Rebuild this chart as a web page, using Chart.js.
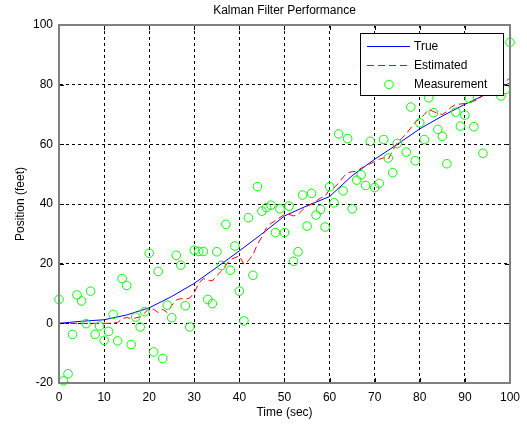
<!DOCTYPE html>
<html>
<head>
<meta charset="utf-8">
<script src="https://cdn.jsdelivr.net/npm/chart.js@4.4.0/dist/chart.umd.min.js"></script>
<style>
  html, body { margin: 0; padding: 0; background: #fff; }
  #wrap { width: 527px; height: 430px; }
</style>
</head>
<body>
<div id="wrap"><canvas id="kalman" width="527" height="430"></canvas></div>
<script>
// time axis of the measurements / estimate, one sample per second
const timeSec = [];
for (let t = 0; t <= 100; t++) timeSec.push(t);

// true trajectory, read every 5 s
const trueTime = [0, 5, 10, 15, 20, 25, 30, 35, 40, 45, 50, 55, 60, 65, 70, 75, 80, 85, 90, 95, 100];
const truePos  = [0, 0.7, 1.2, 2.8, 5.2, 9.0, 13.4, 18.8, 24.3, 30.0, 36.0, 39.4, 42.5, 49.5, 55.0, 60.0, 65.2, 69.5, 73.4, 77.0, 80.6];

// Kalman estimate
const estPos = [
  0, 0, 0, 0, 0, 0, 0, 0, 0, 0,
  0, 0, 0, 0.3, 1.5, 2.0, 1.5, 1.8, 2.2, 3.5,
  5.0, 4.7, 3.6, 4.7, 3.6, 6.0, 7.8, 8.3, 8.0, 8.5,
  10.3, 13.5, 15.0, 14.5, 14.2, 16.0, 17.5, 19.5, 21.4, 22.0,
  22.6, 19.8, 21.0, 23.0, 26.5, 29.0, 32.0, 33.5, 34.5, 35.5,
  36.5, 36.5, 36.0, 36.5, 38.0, 39.3, 40.0, 41.0, 42.0, 42.6,
  44.9, 45.5, 47.0, 49.0, 50.5, 50.8, 51.0, 52.0, 52.7, 53.5,
  54.2, 55.0, 55.5, 54.9, 58.0, 60.5, 62.0, 63.5, 65.5, 67.5,
  68.5, 70.0, 71.7, 71.0, 70.4, 70.0, 71.0, 72.5, 73.4, 73.5,
  73.7, 73.9, 74.5, 75.0, 76.7, 77.5, 78.3, 79.0, 80.5, 81.0,
  82.3
];

// noisy measurements
const measPos = [
  8.0, -19.3, -16.9, -3.7, 9.5, 7.5, -0.1, 10.8, -3.7, -0.9,
  -5.7, -2.7, 3.0, -5.9, 15.0, 12.7, -7.1, 2.1, -1.2, 3.9,
  23.5, -9.6, 17.4, -11.8, 6.1, 1.9, 22.8, 19.5, 5.9, -1.2,
  24.5, 24.1, 24.1, 8.0, 6.6, 24.0, 19.4, 33.2, 17.8, 25.9,
  10.8, 0.8, 35.4, 16.1, 45.8, 37.6, 38.8, 39.6, 30.4, 38.4,
  30.4, 39.3, 20.8, 24.0, 43.0, 32.6, 43.6, 36.3, 38.2, 32.3,
  45.8, 40.4, 63.5, 44.4, 61.9, 38.4, 48.0, 49.8, 46.2, 61.0,
  45.5, 46.9, 61.6, 55.4, 50.5, 60.3, 84.0, 57.4, 72.5, 54.5,
  67.2, 61.6, 75.6, 70.6, 65.0, 62.7, 53.5, 82.0, 70.8, 66.1,
  69.8, 75.4, 65.9, 86.0, 57.0, 88.0, 80.0, 84.0, 76.2, 78.4,
  94.2
];

const xTicks = [0, 10, 20, 30, 40, 50, 60, 70, 80, 90, 100];
const yTicks = [-20, 0, 20, 40, 60, 80, 100];
const chartTitle = 'Kalman Filter Performance';

const FONT = 'Arial, "Liberation Sans", Helvetica, sans-serif';

const toXY = (xs, ys) => xs.map((x, i) => ({ x: x, y: ys[i] }));

// MATLAB style box, inward tick marks and title centred over the axes
const axesBox = {
  id: 'axesBox',
  afterDraw(chart) {
    const { ctx, chartArea: a, scales } = chart;
    ctx.save();
    ctx.strokeStyle = '#000';
    ctx.lineWidth = 1;
    ctx.beginPath();
    xTicks.forEach(v => {
      const px = Math.round(scales.x.getPixelForValue(v)) + 0.5;
      ctx.moveTo(px, a.bottom); ctx.lineTo(px, a.bottom - 5);
      ctx.moveTo(px, a.top); ctx.lineTo(px, a.top + 5);
    });
    yTicks.forEach(v => {
      const py = Math.round(scales.y.getPixelForValue(v)) + 0.5;
      ctx.moveTo(a.left, py); ctx.lineTo(a.left + 5, py);
      ctx.moveTo(a.right, py); ctx.lineTo(a.right - 5, py);
    });
    ctx.stroke();
    ctx.strokeStyle = '#808080';
    ctx.lineWidth = 2;
    ctx.strokeRect(Math.round(a.left), Math.round(a.top),
                   Math.round(a.right - a.left), Math.round(a.bottom - a.top));
    ctx.fillStyle = '#000';
    ctx.font = '12px ' + FONT;
    ctx.textAlign = 'center';
    ctx.textBaseline = 'middle';
    ctx.fillText(chartTitle, (a.left + a.right) / 2, 11);
    ctx.restore();
  }
};

// legend box drawn inside the axes, covering what lies under it
const insideLegend = {
  id: 'insideLegend',
  afterDatasetsDraw(chart) {
    const ctx = chart.ctx;
    const x0 = 360, y0 = 33, w = 143, h = 62;
    ctx.save();
    ctx.fillStyle = '#fff';
    ctx.fillRect(x0, y0, w, h);
    ctx.strokeStyle = '#000';
    ctx.lineWidth = 1;
    ctx.strokeRect(x0 + 0.5, y0 + 0.5, w, h);
    ctx.font = '12px ' + FONT;
    ctx.textBaseline = 'middle';
    ctx.textAlign = 'left';
    chart.data.datasets.forEach((ds, i) => {
      const cy = y0 + 13.5 + i * 19;
      ctx.lineWidth = 1;
      if (ds.showLine === false) {
        ctx.setLineDash([]);
        ctx.strokeStyle = ds.pointBorderColor;
        ctx.beginPath();
        ctx.arc(389, cy, ds.pointRadius, 0, Math.PI * 2);
        ctx.stroke();
      } else {
        ctx.setLineDash(ds.borderDash || []);
        ctx.strokeStyle = ds.borderColor;
        ctx.beginPath();
        ctx.moveTo(367, cy); ctx.lineTo(410, cy);
        ctx.stroke();
      }
      ctx.setLineDash([]);
      ctx.fillStyle = '#000';
      ctx.fillText(ds.label, 414, cy);
    });
    ctx.restore();
  }
};

new Chart(document.getElementById('kalman'), {
  type: 'scatter',
  data: {
    datasets: [
      {
        label: 'True',
        data: toXY(trueTime, truePos),
        showLine: true,
        borderColor: '#0000ff',
        borderWidth: 1,
        pointRadius: 0,
        tension: 0,
        order: 2
      },
      {
        label: 'Estimated',
        data: toXY(timeSec, estPos),
        showLine: true,
        borderColor: '#ff0000',
        borderWidth: 1,
        borderDash: [7, 4],
        pointRadius: 0,
        tension: 0,
        order: 1
      },
      {
        label: 'Measurement',
        data: toXY(timeSec, measPos),
        showLine: false,
        pointStyle: 'circle',
        pointRadius: 4.3,
        pointBorderWidth: 1,
        pointBorderColor: '#00ff00',
        borderColor: '#00ff00',
        pointBackgroundColor: 'rgba(0,0,0,0)',
        clip: false,
        order: 0
      }
    ]
  },
  options: {
    responsive: false,
    animation: false,
    devicePixelRatio: 1,
    layout: { padding: { left: 0, right: 13, top: 25, bottom: 0 } },
    plugins: {
      legend: { display: false },
      tooltip: { enabled: false },
      title: { display: false }
    },
    scales: {
      x: {
        type: 'linear',
        min: 0,
        max: 100,
        afterBuildTicks: s => { s.ticks = xTicks.map(v => ({ value: v })); },
        afterFit: s => { s.height = 47; },
        ticks: {
          color: '#000',
          padding: 7,
          maxRotation: 0,
          font: { family: FONT, size: 12 }
        },
        grid: { color: '#000', lineWidth: 1, drawTicks: false },
        border: { display: true, color: '#808080', width: 1, dash: [3, 3] },
        title: {
          display: true,
          text: 'Time (sec)',
          color: '#000',
          font: { family: FONT, size: 12 },
          padding: { top: 2, bottom: 9.8 }
        }
      },
      y: {
        type: 'linear',
        min: -20,
        max: 100,
        afterBuildTicks: s => { s.ticks = yTicks.map(v => ({ value: v })); },
        afterFit: s => { s.width = 59; },
        ticks: {
          color: '#000',
          padding: 6,
          font: { family: FONT, size: 12 }
        },
        grid: { color: '#000', lineWidth: 1, drawTicks: false },
        border: { display: true, color: '#808080', width: 1, dash: [3, 3] },
        title: {
          display: true,
          text: 'Position (feet)',
          color: '#000',
          font: { family: FONT, size: 12 },
          padding: { top: 13, bottom: 0 }
        }
      }
    }
  },
  plugins: [insideLegend, axesBox]
});
</script>
</body>
</html>
